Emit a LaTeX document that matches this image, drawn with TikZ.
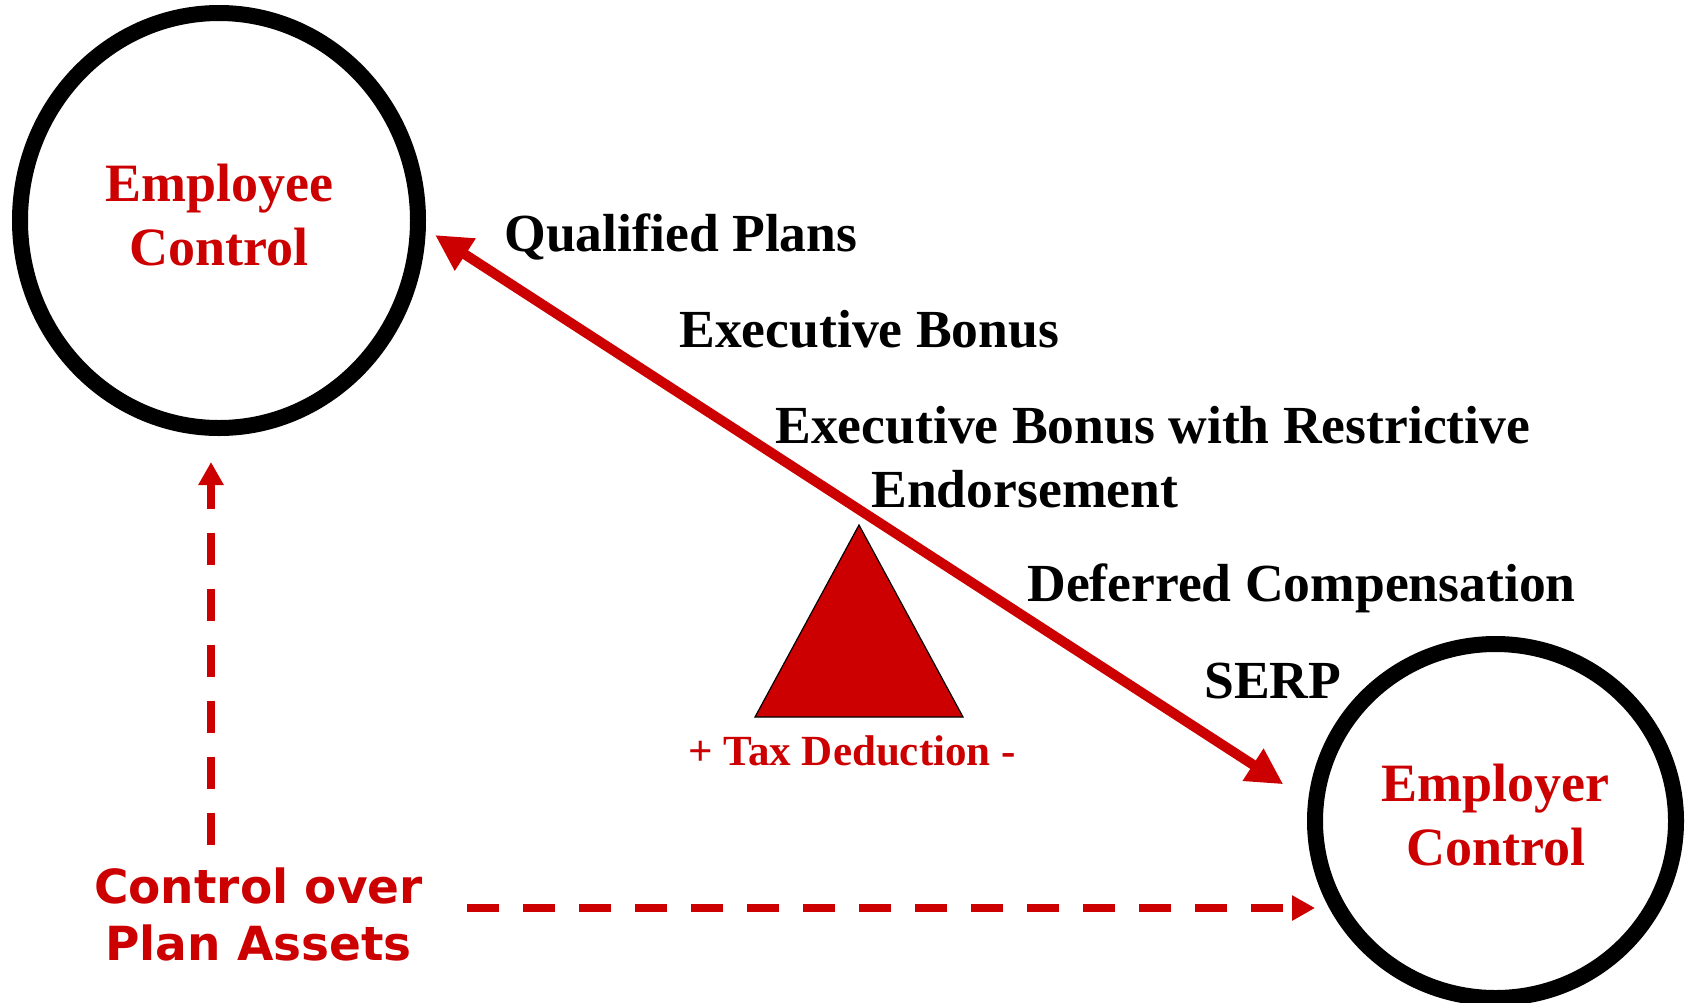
\documentclass[tikz,border=0pt]{standalone}
\usepackage{amsmath}
\usepackage{fontspec}
\setmainfont{Liberation Serif}
\newfontfamily\assetsfont{DejaVu Sans}
\usepackage{tikz}
\usetikzlibrary{arrows.meta,shapes.geometric}
\definecolor{deepred}{RGB}{204,0,0}

\begin{document}
\begin{tikzpicture}[x=0.5pt, y=-0.5pt,
	control/.style = {ellipse, draw=black, line width=8pt, inner sep=0pt, outer sep=0pt,
		align=center, text=deepred, text depth=6pt, font=\fontsize{27}{32}\selectfont\bfseries},
	plan/.style = {anchor=base west, inner sep=0pt, align=left,
		font=\fontsize{26.8}{32}\selectfont\bfseries},
	bigarrow/.style = {draw=deepred, line width=5pt,
		{Triangle[length=18pt,width=18pt]}-{Triangle[length=18pt,width=18pt]}},
	dasharrow/.style = {draw=deepred, line width=4pt, dash pattern=on 16pt off 12pt,
		-{Triangle[length=11.5pt,width=12pt]}}]
			\useasboundingbox (0,0) rectangle (1690,1002);
			\node[control,
			minimum width = 199pt,
			minimum height = 207.5pt] (employee) at(219,220.5){Employee\\Control};
			\node[control,
			minimum width = 180.5pt,
			minimum height = 177pt] (employer) at(1495.5,821){Employer\\Control};
			\node[plan] (qualified) at(504,251){Qualified Plans};
			\node[plan] (bonus) at(679,347){Executive Bonus};
			\node[plan] (restrictive) at(775,507){Executive Bonus with Restrictive\\\hspace*{48pt}Endorsement};
			\node[plan] (deferred) at(1027,601){Deferred Compensation};
			\node[plan] (serp) at(1204,698){SERP};
			\draw[fill=deepred, line width=0.6pt] (859,525) -- (755,717) -- (963,717) -- cycle;
			\node[anchor=base, inner sep=0pt, text=deepred,
			font=\fontsize{21.5}{26}\selectfont\bfseries] (tax) at(852,765){+ Tax Deduction -};
			\node[anchor=base, inner sep=0pt, align=center, text=deepred,
			font=\fontsize{23.5}{28.5}\selectfont\assetsfont\bfseries] (assets) at(258.5,960){Control over\\Plan Assets};
			\coordinate (vfoot) at(211,845);
			\coordinate (hfoot) at(467,908);
			\draw[bigarrow, shorten <=10.2pt, shorten >=19.35pt] (employee.-1.6) -- (employer.175.9);
			\draw[dasharrow, shorten >=17pt] (vfoot) -- (vfoot |- employee.south);
			\draw[dasharrow] (hfoot) -- (hfoot -| employer.west);
		\end{tikzpicture}
\end{document}
